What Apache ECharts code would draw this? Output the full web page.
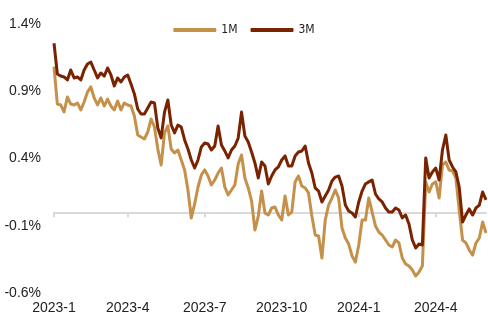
<!DOCTYPE html>
<html>
<head>
<meta charset="utf-8">
<script src="https://cdn.jsdelivr.net/npm/echarts@6/dist/echarts.min.js"></script>
<style>
html,body{margin:0;padding:0;background:#fff;}
#chart{width:488px;height:322px;}
</style>
</head>
<body>
<div id="chart"></div>
<script>
// x categories: sample dates, every 4 days from 2023-01-03
const startDate = Date.UTC(2023, 0, 3);
const stepDays = 4;
const pointCount = 130;
const categories = [];
for (let k = 0; k < pointCount; k++) {
  const d = new Date(startDate + k * stepDays * 86400000);
  categories.push(d.toISOString().slice(0, 10));
}

const tickLabels = ['2023-1', '2023-4', '2023-7', '2023-10', '2024-1', '2024-4'];
const yTickValues = [-0.6, -0.1, 0.4, 0.9, 1.4];
const seriesNames = ['1M', '3M'];

// 1M (%)
const values1M = [
  1.083, 0.805, 0.798, 0.746, 0.857, 0.805, 0.798, 0.813, 0.761, 0.820,
  0.894, 0.932, 0.850, 0.798, 0.850, 0.790, 0.842, 0.790, 0.761, 0.827,
  0.761, 0.813, 0.798, 0.790, 0.716, 0.575, 0.560, 0.545, 0.597, 0.694,
  0.634, 0.470, 0.352, 0.590, 0.642, 0.470, 0.441, 0.463, 0.389, 0.315,
  0.166, -0.042, 0.062, 0.188, 0.277, 0.315, 0.270, 0.203, 0.240, 0.292,
  0.329, 0.188, 0.129, 0.166, 0.203, 0.359, 0.426, 0.255, 0.181, 0.084,
  -0.132, -0.028, 0.158, -0.005, -0.020, 0.032, 0.039, -0.020, -0.057, 0.121,
  -0.020, 0.002, 0.226, 0.270, 0.196, 0.181, 0.144, -0.028, -0.169, -0.176,
  -0.340, -0.057, 0.054, 0.106, 0.166, 0.106, -0.117, -0.191, -0.236, -0.325,
  -0.370, -0.243, -0.057, -0.057, 0.106, 0.002, -0.102, -0.147, -0.169, -0.206,
  -0.243, -0.258, -0.206, -0.228, -0.340, -0.384, -0.399, -0.429, -0.474, -0.444,
  -0.399, 0.226, 0.151, 0.211, 0.226, 0.106, 0.352, 0.374, 0.314, 0.307,
  0.255, 0.017, -0.206, -0.228, -0.280, -0.318, -0.228, -0.191, -0.072, -0.154
];

// 3M (%)
const values3M = [
  1.257, 1.028, 1.013, 1.006, 0.984, 1.058, 0.999, 1.006, 0.984, 1.058,
  1.103, 1.117, 1.058, 0.999, 1.036, 1.013, 1.073, 1.021, 0.939, 0.999,
  0.969, 1.006, 1.021, 0.954, 0.880, 0.768, 0.731, 0.731, 0.776, 0.820,
  0.813, 0.627, 0.553, 0.745, 0.835, 0.649, 0.590, 0.649, 0.634, 0.538,
  0.471, 0.389, 0.329, 0.389, 0.486, 0.515, 0.508, 0.463, 0.493, 0.642,
  0.500, 0.456, 0.404, 0.463, 0.493, 0.552, 0.745, 0.567, 0.523, 0.448,
  0.367, 0.255, 0.374, 0.344, 0.211, 0.270, 0.315, 0.337, 0.389, 0.419,
  0.344, 0.344, 0.419, 0.448, 0.456, 0.493, 0.367, 0.292, 0.181, 0.158,
  0.077, 0.121, 0.166, 0.233, 0.262, 0.270, 0.196, 0.054, 0.010, -0.005,
  -0.035, 0.077, 0.158, 0.211, 0.226, 0.240, 0.136, 0.099, 0.077, 0.032,
  0.002, 0.002, 0.032, 0.017, -0.042, -0.020, -0.087, -0.206, -0.265, -0.236,
  -0.243, 0.404, 0.255, 0.300, 0.329, 0.240, 0.463, 0.575, 0.389, 0.337,
  0.300, 0.188, -0.072, -0.020, 0.025, -0.020, 0.032, 0.054, 0.151, 0.092
];

const colors = ['#C4904A', '#7A2300'];

function quarterLabel(index) {
  const d = categories[index];
  const y = +d.slice(0, 4), m = +d.slice(5, 7);
  if (index > 0 && categories[index - 1].slice(5, 7) === d.slice(5, 7)) return null;
  const lbl = y + '-' + m;
  return tickLabels.indexOf(lbl) >= 0 ? lbl : null;
}
function isTick(index) { return quarterLabel(index) !== null; }

const font = 'Liberation Sans, Arial, sans-serif';
const chart = echarts.init(document.getElementById('chart'), null, {renderer: 'canvas'});
chart.setOption({
  animation: false,
  backgroundColor: '#ffffff',
  color: colors,
  legend: {
    data: seriesNames,
    top: 19,
    left: 'center',
    icon: 'roundRect',
    itemWidth: 43,
    itemHeight: 4,
    itemGap: 13,
    textStyle: {fontSize: 12, color: '#222', fontFamily: 'Liberation Sans Narrow, Arial Narrow, DejaVu Sans Condensed, sans-serif'}
  },
  grid: {left: 54, right: 2, top: 24, bottom: 29, containLabel: false},
  xAxis: [
    {
      type: 'category',
      data: categories,
      boundaryGap: false,
      position: 'bottom',
      axisLine: {show: true, onZero: true, lineStyle: {color: '#d9d9d9', width: 2}},
      axisTick: {show: true, length: 5, interval: (i) => isTick(i), lineStyle: {color: '#d9d9d9', width: 2}},
      axisLabel: {show: false},
      splitLine: {show: false}
    },
    {
      type: 'category',
      data: categories,
      boundaryGap: false,
      position: 'bottom',
      axisLine: {show: false, onZero: false},
      axisTick: {show: false},
      splitLine: {show: false},
      axisLabel: {
        show: true,
        margin: 8,
        fontSize: 14,
        color: '#222',
        fontFamily: font,
        interval: (i) => isTick(i),
        formatter: (v, i) => quarterLabel(i) || ''
      }
    }
  ],
  yAxis: {
    type: 'value',
    min: -0.6,
    max: 1.4,
    axisLine: {show: false},
    axisTick: {show: false},
    splitLine: {show: false},
    axisLabel: {
      customValues: yTickValues,
      margin: 13,
      fontSize: 14,
      color: '#222',
      fontFamily: font,
      formatter: (v) => v.toFixed(1) + '%'
    }
  },
  series: [
    {name: seriesNames[0], type: 'line', data: values1M, xAxisIndex: 0, showSymbol: false, symbol: 'none',
     lineStyle: {width: 3, color: colors[0], join: 'round'}, itemStyle: {color: colors[0]}},
    {name: seriesNames[1], type: 'line', data: values3M, xAxisIndex: 0, showSymbol: false, symbol: 'none',
     lineStyle: {width: 3, color: colors[1], join: 'round'}, itemStyle: {color: colors[1]}}
  ]
});
</script>
</body>
</html>
